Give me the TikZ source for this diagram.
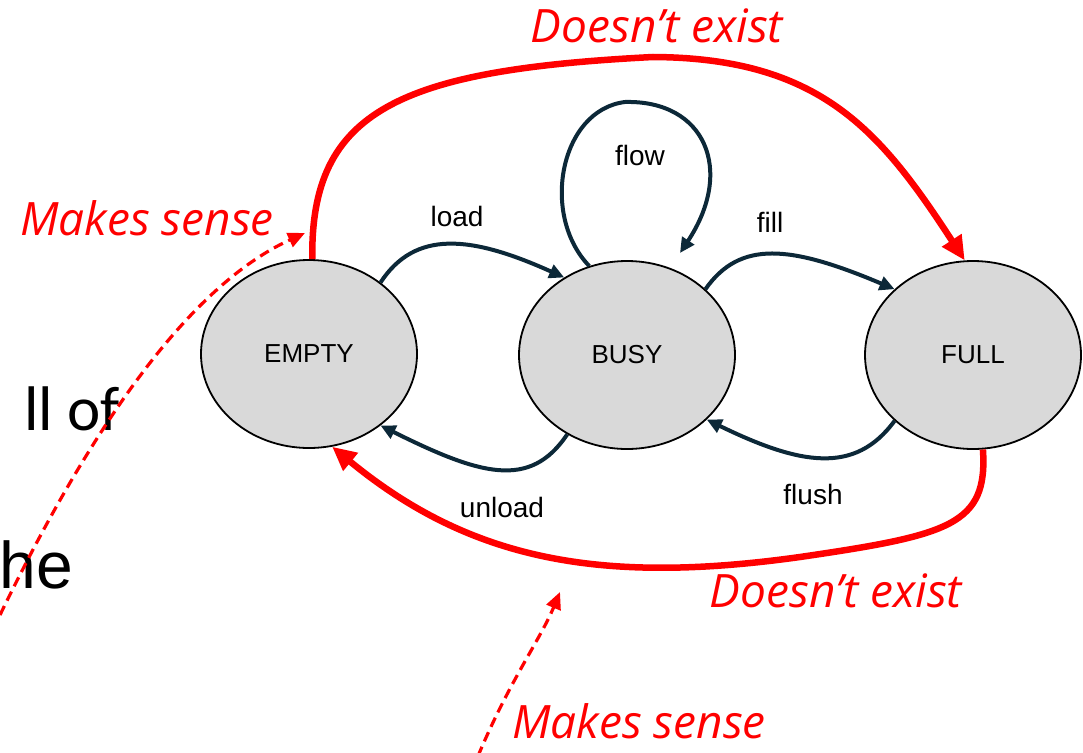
\documentclass[tikz,border=0pt]{standalone}
\usepackage{fontspec}
\setmainfont{Liberation Sans}
\newfontfamily\notefont{Open Sans}
\newfontfamily\slidefont{Carlito}
\usetikzlibrary{shapes.geometric,arrows.meta}
\definecolor{navy}{RGB}{12,40,56}
\definecolor{stategray}{RGB}{217,217,217}
\tikzset{
  state/.style={ellipse,draw=black,line width=1.8pt,fill=stategray,
    minimum width=216pt,minimum height=188pt,inner sep=0pt,
    font=\fontsize{26}{30}\selectfont},
  trans/.style={draw=navy,line width=4pt,
    -{Triangle[length=15pt,width=14pt]}},
  translabel/.style={font=\fontsize{28}{32}\selectfont,text=black,inner sep=0pt},
  nope/.style={draw=red,line width=6.5pt,
    -{Triangle[length=24pt,width=22pt]}},
  maybe/.style={draw=red,line width=3.2pt,dash pattern=on 10pt off 6pt,
    -{Triangle[length=17pt,width=15pt]}},
  note/.style={font=\notefont\itshape\fontsize{46}{52}\selectfont,text=red,
    inner sep=0pt,anchor=base},
}
\begin{document}
\begin{tikzpicture}[x=1pt,y=-1pt]
  \useasboundingbox (0,0) rectangle (1083,752);
  \clip (0,0) rectangle (1083,752);

  % slide text peeking out behind the diagram
  \node[font=\slidefont\fontsize{63}{72}\selectfont,anchor=base west,inner sep=0pt]
    (slideA) at (24,430) {ll of};
  \node[font=\fontsize{66}{76}\selectfont,anchor=base east,inner sep=0pt]
    (slideB) at (73,588) {he};

  % states
  \node[state] (empty) at (309,354) {EMPTY};
  \node[state] (busy)  at (627,355) {BUSY};
  \node[state] (full)  at (973,355) {FULL};

  % transitions
  \draw[trans] (empty.45) .. controls (415,230) and (470,235) .. (busy.129);
  \draw[trans] (busy.233) .. controls (530,490) and (480,475) .. (empty.-45);
  \draw[trans] (busy.40) .. controls (740,240) and (790,245) .. (full.140);
  \draw[trans] (full.220) .. controls (855,475) and (800,465) .. (busy.-39);
  \coordinate (flowtop) at (625,102);
  \coordinate (flowend) at (680,253);
  \draw[trans] (busy.113) .. controls (540,215) and (560,110) .. (flowtop)
    .. controls (705,100) and (735,170) .. (flowend);

  \node[translabel] (lload)   at (457,216) {load};
  \node[translabel] (lunload) at (502,507) {unload};
  \node[translabel] (lfill)   at (770,222) {fill};
  \node[translabel] (lflush)  at (813,494) {flush};
  \node[translabel] (lflow)   at (640,155) {flow};

  % transitions that do not exist
  \coordinate (topmid) at (653,57);
  \draw[nope] (empty.88) .. controls (310,110) and (400,70) .. (topmid)
    .. controls (820,58) and (880,130) .. (full.95);
  \coordinate (botmid) at (800,557);
  \draw[nope] (full.-84) .. controls (988,525) and (950,535) .. (botmid)
    .. controls (600,585) and (470,560) .. (empty.-76);

  \node[note] (n1) at (657,42) {Doesn’t exist};
  \node[note] (n2) at (836,607) {Doesn’t exist};

  % transitions that make sense
  \coordinate (ms1start) at (0,615);
  \coordinate (ms1end) at (305,233);
  \draw[maybe] (ms1start) .. controls (80,450) and (180,290) .. (ms1end);
  \coordinate (ms2start) at (478,756);
  \coordinate (ms2end) at (560,592);
  \draw[maybe] (ms2start) .. controls (510,680) and (540,640) .. (ms2end);

  \node[note] (n3) at (147,235) {Makes sense};
  \node[note] (n4) at (639,738) {Makes sense};
\end{tikzpicture}
\end{document}
